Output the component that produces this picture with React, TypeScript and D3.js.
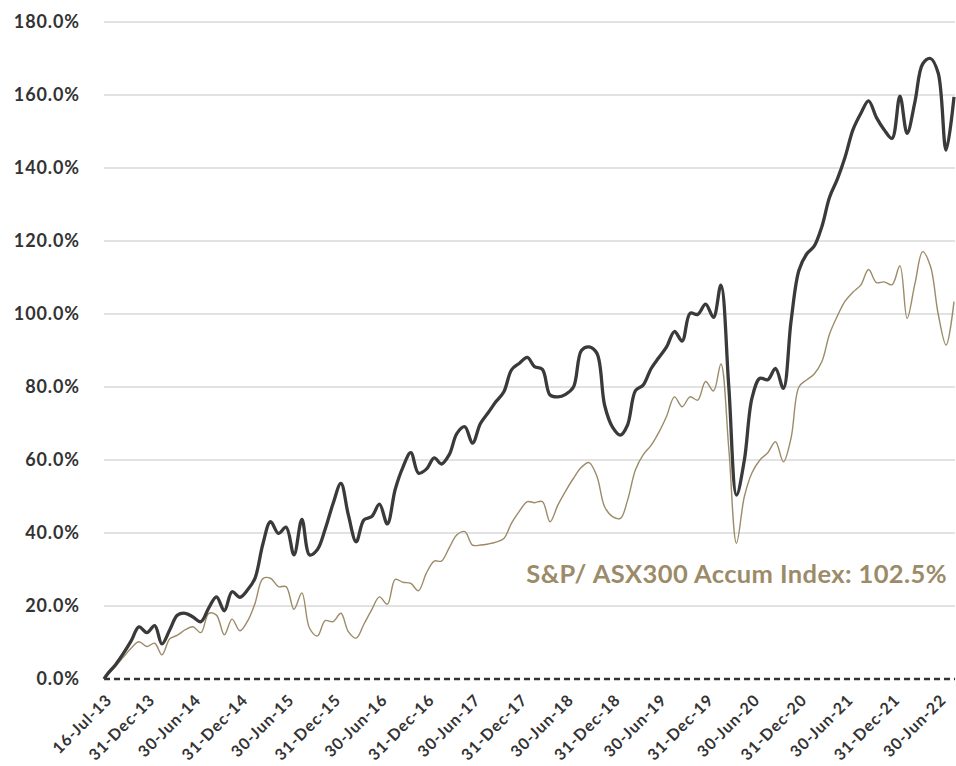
import * as d3 from "d3";
import React, { useEffect, useRef } from "react";

// fund vs index cumulative return, monthly from inception
const startDate = "2013-07-16";
const endDate = "2022-08-31";

const fundReturn = [
  0, 1.5, 4, 7, 10.5, 14.3, 12.7, 14.6, 9.6, 13.5, 17.5,
  18, 17, 15.7, 19.5, 22.5, 18.7, 23.9, 22.4, 24.5, 27.6,
  37, 43.1, 39.9, 41.6, 34, 43.7, 34, 35.5, 41, 48,
  53.6, 45, 37.6, 43.6, 44.5, 47.9, 42.5, 52, 58, 62,
  56.4, 57.5, 60.6, 58.9, 61.5, 67.3, 69.1, 64.6, 70, 73,
  76, 78.7, 84.7, 86.5, 88.1, 85.6, 84.8, 77.8, 77.3, 78,
  80, 90, 91, 89.2, 75, 69, 66.8, 69.6, 79, 80.5,
  85, 88, 91, 95.2, 92.6, 100.2, 99.9, 102.7, 99.1, 107.9,
  80, 50.4, 60, 77, 82.4, 82, 85.1, 79.6, 98, 112,
  116.5, 118.5, 124, 132, 137, 143, 150.5, 155, 158.4, 153.8,
  150.5, 148.1, 159.7, 149.5, 158.2, 168.5, 170, 166, 144.9, 159.5,
];

const indexReturn = [
  0, 1.2, 3.5, 6, 8.5, 10.2, 8.9, 9.8, 6.6, 11, 12,
  13.5, 14.3, 12.7, 18, 17.5, 12.1, 16.4, 13.2, 16, 20.7,
  27.5, 27.6, 25.3, 25.3, 19.1, 23.6, 13.9, 11.8, 16, 15.7,
  18, 13, 11.2, 15, 19, 22.5, 20.5, 27.3, 26.5, 26.2,
  24.2, 29, 32.3, 32.3, 36, 39.5, 40.4, 36.7, 36.7, 37,
  37.5, 38.5, 42.7, 46, 48.6, 48.3, 48.6, 43.1, 47.7, 51.5,
  55, 58, 59.3, 55.5, 47.2, 44.5, 44, 49, 57.3, 61.4,
  64, 67.5, 72, 77.3, 74.6, 77.3, 76.4, 81.5, 78.9, 86.3,
  63, 37.2, 50, 56.5, 60, 62, 65, 59.5, 66, 80,
  82, 83.5, 87, 94.5, 99.5, 103.5, 106, 108, 112.2, 108.6,
  108.8, 108, 113.2, 98.8, 108.4, 117.1, 113, 100, 91.5, 103.4,
];

const xTickLabels = [
  "16-Jul-13", "31-Dec-13", "30-Jun-14", "31-Dec-14", "30-Jun-15", "31-Dec-15",
  "30-Jun-16", "31-Dec-16", "30-Jun-17", "31-Dec-17", "30-Jun-18", "31-Dec-18",
  "30-Jun-19", "31-Dec-19", "30-Jun-20", "31-Dec-20", "30-Jun-21", "31-Dec-21",
  "30-Jun-22",
];

const yTicks = [0, 20, 40, 60, 80, 100, 120, 140, 160, 180];

const indexLabel = "S&P/ ASX300 Accum Index: 102.5%";

export default function App() {
  const svgRef = useRef<SVGSVGElement>(null);
  const W = 956;
  const H = 766;

  useEffect(() => {
    const svg = d3.select(svgRef.current);
    svg.selectAll("*").remove();

    const parseIso = d3.utcParse("%Y-%m-%d");
    const parseTick = d3.utcParse("%d-%b-%y");
    const start = parseIso(startDate)!;
    const end = parseIso(endDate)!;

    // inception, then month ends
    const monthEnds = d3
      .utcMonth.range(d3.utcMonth.offset(d3.utcMonth.floor(start), 1), d3.utcMonth.offset(end, 1))
      .map((d) => d3.utcDay.offset(d, -1));
    const dates = [start, ...monthEnds];

    const x = d3.scaleUtc().domain([start, end]).range([104, 954]);
    const y = d3.scaleLinear().domain([0, 180]).range([679, 22]);

    const font = "Lato, 'Noto Sans', sans-serif";

    // grid
    svg.append("g")
      .selectAll("line")
      .data(yTicks.filter((d) => d !== 0))
      .enter()
      .append("line")
      .attr("x1", 104)
      .attr("x2", 955)
      .attr("y1", (d) => y(d))
      .attr("y2", (d) => y(d))
      .attr("stroke", "#d9d9d9")
      .attr("stroke-width", 1.5);

    // y labels
    svg.append("g")
      .selectAll("text")
      .data(yTicks)
      .enter()
      .append("text")
      .attr("x", 80)
      .attr("y", (d) => y(d))
      .attr("dy", "0.36em")
      .attr("text-anchor", "end")
      .attr("font-family", font)
      .attr("font-weight", 700)
      .attr("font-size", "18px")
      .attr("letter-spacing", "0.9px")
      .attr("fill", "#333333")
      .text((d) => `${d.toFixed(1)}%`);

    // zero line
    svg.append("line")
      .attr("x1", 104)
      .attr("x2", 955)
      .attr("y1", y(0))
      .attr("y2", y(0))
      .attr("stroke", "#333333")
      .attr("stroke-width", 2.5)
      .attr("stroke-dasharray", "6,4");

    // x labels
    svg.append("g")
      .selectAll("text")
      .data(xTickLabels)
      .enter()
      .append("text")
      .attr("transform", (d) => `translate(${x(parseTick(d)!) + 9},${y(0) + 22}) rotate(-45)`)
      .attr("text-anchor", "end")
      .attr("font-family", font)
      .attr("font-weight", 700)
      .attr("font-size", "16px")
      .attr("letter-spacing", "0.9px")
      .attr("fill", "#333333")
      .text((d) => d);

    const line = (vals: number[]) =>
      d3
        .line<number>()
        .x((_, i) => x(dates[i]))
        .y((d) => y(d))
        .curve(d3.curveCatmullRom.alpha(0.5))(vals);

    svg.append("path")
      .attr("d", line(indexReturn))
      .attr("fill", "none")
      .attr("stroke", "#9b8b68")
      .attr("stroke-width", 1.4);

    svg.append("path")
      .attr("d", line(fundReturn))
      .attr("fill", "none")
      .attr("stroke", "#3a3a3a")
      .attr("stroke-width", 3.3)
      .attr("stroke-linejoin", "round");

    svg.append("text")
      .attr("x", 947)
      .attr("y", 583)
      .attr("text-anchor", "end")
      .attr("font-family", font)
      .attr("font-weight", 700)
      .attr("font-size", "25.5px")
      .attr("letter-spacing", "0.4px")
      .attr("fill", "#9b8b68")
      .text(indexLabel);
  }, []);

  return (
    <svg
      ref={svgRef}
      width={W}
      height={H}
      style={{ position: "absolute", left: 0, top: 0, background: "#ffffff" }}
    />
  );
}
